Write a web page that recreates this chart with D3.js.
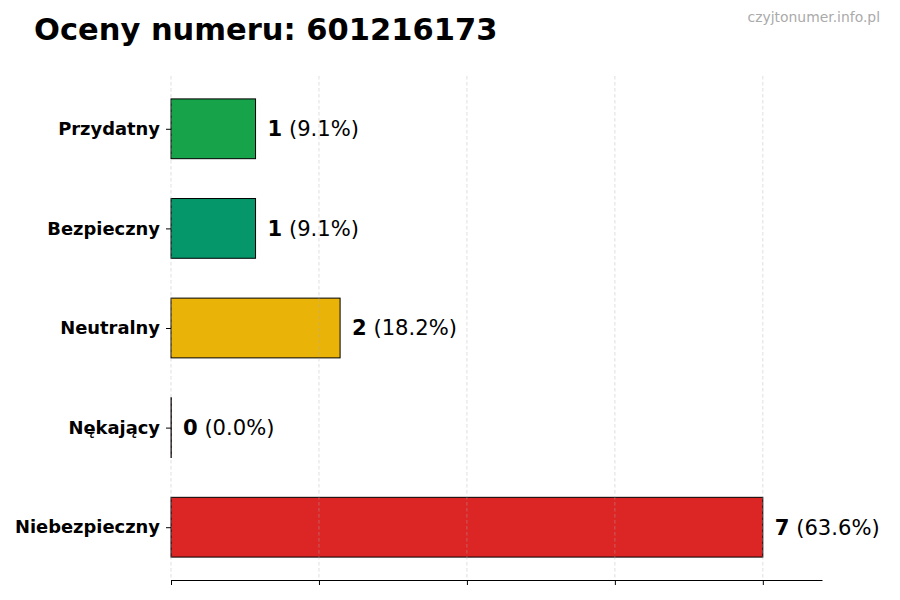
<!DOCTYPE html>
<html>
<head>
	<meta charset="utf-8">
	<style type="text/css">
		body{
			margin: 0;
			background-color: white;
		}
		text{
			font-family: 'DejaVu Sans', sans-serif;
		}
	</style>
	<title>Oceny numeru</title>
	<script src="https://cdn.jsdelivr.net/npm/d3@7"></script>
</head>
<body>
	<div id="chart"></div>

	<script type="text/javascript">
		const categories = ['Przydatny', 'Bezpieczny', 'Neutralny', 'Nękający', 'Niebezpieczny'];
		const counts = [1, 1, 2, 0, 7];
		const colors = ['#16a34a', '#059669', '#eab308', '#ea580c', '#dc2626'];
		const xTicks = [0, 1.75, 3.5, 5.25, 7];

		const total = d3.sum(counts);
		const [w, h] = [900, 600];
		const [padL, padR, padT, padB] = [171, 822, 76, 580];

		const xScale = d3.scaleLinear()
			.domain([0, d3.max(counts) * 1.1])
			.range([padL, padR]);
		// category index -> vertical position, matplotlib-like margins
		const yScale = d3.scaleLinear()
			.domain([-0.53, categories.length - 1 + 0.53])
			.range([padT, padB]);
		const barH = yScale(0.3) - yScale(-0.3);

		const svg = d3.select('#chart')
			.append('svg')
			.attr('width', w)
			.attr('height', h);

		svg.append('text')
			.attr('x', 34)
			.attr('y', 40)
			.attr('font-size', 30.5)
			.attr('font-weight', 'bold')
			.text('Oceny numeru: 601216173');

		svg.append('text')
			.attr('x', 880)
			.attr('y', 22)
			.attr('text-anchor', 'end')
			.attr('font-size', 13.9)
			.attr('fill', '#aaaaaa')
			.text('czyjtonumer.info.pl');

		// zero counts still get a hairline so the outline shows
		svg.selectAll('rect.bar')
			.data(counts)
			.enter()
			.append('rect')
			.attr('class', 'bar')
			.attr('x', xScale(0))
			.attr('y', (d, i) => yScale(i) - barH / 2)
			.attr('width', d => Math.max(xScale(d) - xScale(0), 0.3))
			.attr('height', barH)
			.attr('fill', (d, i) => colors[i])
			.attr('stroke', 'black')
			.attr('stroke-width', 1);

		// grid on top of the bars
		svg.append('g')
			.selectAll('line')
			.data(xTicks)
			.enter()
			.append('line')
			.attr('x1', d => xScale(d))
			.attr('x2', d => xScale(d))
			.attr('y1', padT)
			.attr('y2', padB)
			.attr('stroke', '#b0b0b0')
			.attr('stroke-opacity', 0.5)
			.attr('stroke-dasharray', '3.5,2.5')
			.attr('stroke-width', 0.8);

		const xAxis = d3.axisBottom(xScale)
			.tickValues(xTicks)
			.tickFormat('')
			.tickSize(5)
			.tickSizeOuter(0);
		svg.append('g')
			.attr('transform', `translate(0,${padB})`)
			.call(xAxis)
			.call(g => g.select('.domain').attr('stroke-width', 1.2));

		const yAxis = d3.axisLeft(yScale)
			.tickValues(d3.range(categories.length))
			.tickFormat(i => categories[i])
			.tickSize(5)
			.tickPadding(6);
		svg.append('g')
			.attr('transform', `translate(${padL},0)`)
			.call(yAxis)
			.call(g => g.select('.domain').remove())
			.call(g => g.selectAll('text')
				.attr('font-family', "'DejaVu Sans', sans-serif")
				.attr('font-size', 17.9)
				.attr('font-weight', 'bold')
				.attr('fill', 'black'));

		const labels = svg.append('g')
			.selectAll('text')
			.data(counts)
			.enter()
			.append('text')
			.attr('x', d => xScale(d) + 12)
			.attr('y', (d, i) => yScale(i))
			.attr('dy', '0.35em')
			.attr('font-size', 21.1);
		labels.append('tspan')
			.attr('font-weight', 'bold')
			.text(d => d);
		labels.append('tspan')
			.text(d => ` (${(d / total * 100).toFixed(1)}%)`);
	</script>
</body>
</html>
